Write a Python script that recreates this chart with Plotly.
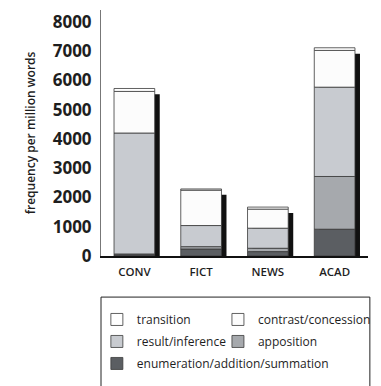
import plotly.graph_objects as go

categories = ["CONV", "FICT", "NEWS", "ACAD"]
enumeration = [40, 240, 150, 915]
apposition = [30, 80, 115, 1800]
result = [4130, 720, 685, 3050]
contrast = [1420, 1210, 650, 1255]
transition = [100, 40, 70, 90]
y_ticks = [0, 1000, 2000, 3000, 4000, 5000, 6000, 7000, 8000]

# (name, values, colour, legend, rank) stacked bottom to top
series = [
    ("enumeration/addition/summation", enumeration, "#5b5e62", "legend", 3),
    ("apposition", apposition, "#a6a9ad", "legend2", 2),
    ("result/inference", result, "#c8cbd0", "legend", 2),
    ("contrast/concession", contrast, "#fcfcfc", "legend2", 1),
    ("transition", transition, "#ffffff", "legend", 1),
]

BAR_W = 0.61
SHADOW_SHIFT = 0.075
SHADOW_DROP = 200

totals = [sum(v) for v in zip(enumeration, apposition, result, contrast, transition)]

fig = go.Figure()

# drop shadow behind each stacked bar
fig.add_trace(go.Bar(
    x=categories, y=[t - SHADOW_DROP for t in totals], base=0,
    width=BAR_W, offset=-BAR_W / 2 + SHADOW_SHIFT,
    marker=dict(color="#111111", line=dict(width=0)),
    showlegend=False, hoverinfo="skip",
))

base = [0] * len(categories)
for name, vals, col, leg, rank in series:
    fig.add_trace(go.Bar(
        x=categories, y=vals, base=list(base), name=name,
        width=BAR_W, offset=-BAR_W / 2,
        marker=dict(color=col, line=dict(color="#3a3a3a", width=0.8)),
        legend=leg, legendrank=rank, legendgroup=name,
    ))
    base = [b + v for b, v in zip(base, vals)]

font_family = "Open Sans"
fig.update_layout(
    width=381, height=386,
    margin=dict(l=101, r=5, t=10, b=130),
    barmode="overlay",
    paper_bgcolor="white", plot_bgcolor="white",
    font=dict(family=font_family, color="#1e1e1e"),
    xaxis=dict(
        range=[-0.5, 3.5], showline=True, linecolor="#111", linewidth=1.5,
        ticks="", showgrid=False, zeroline=False, automargin=False,
        tickfont=dict(size=11.5, weight=600, family=font_family),
        ticklabelstandoff=4,
    ),
    yaxis=dict(
        range=[0, 8400], tickvals=y_ticks, showline=True, linecolor="#777",
        linewidth=1, ticks="", showgrid=False, zeroline=False, automargin=False,
        tickfont=dict(size=17, weight=700, family=font_family),
        ticklabelstandoff=5,
        title=dict(text="frequency per million words",
                   font=dict(size=12, weight=600, family=font_family),
                   standoff=14),
    ),
    legend=dict(
        orientation="v", x=-0.0155, xanchor="left", y=-0.199, yanchor="top",
        borderwidth=0, bgcolor="rgba(0,0,0,0)",
        font=dict(size=12, family=font_family),
        traceorder="grouped", tracegroupgap=3,
    ),
    legend2=dict(
        orientation="v", x=0.438, xanchor="left", y=-0.199, yanchor="top",
        borderwidth=0, bgcolor="rgba(0,0,0,0)",
        font=dict(size=12, family=font_family),
        traceorder="grouped", tracegroupgap=3,
    ),
    shapes=[dict(
        type="rect", xref="paper", yref="paper",
        x0=0.0, x1=1.007, y0=-0.62, y1=-0.167,
        line=dict(color="#222", width=1), fillcolor="white", layer="below",
    )],
)

fig.write_html("out.html", config={"displayModeBar": False},
               post_script="document.body.style.margin='0';")
